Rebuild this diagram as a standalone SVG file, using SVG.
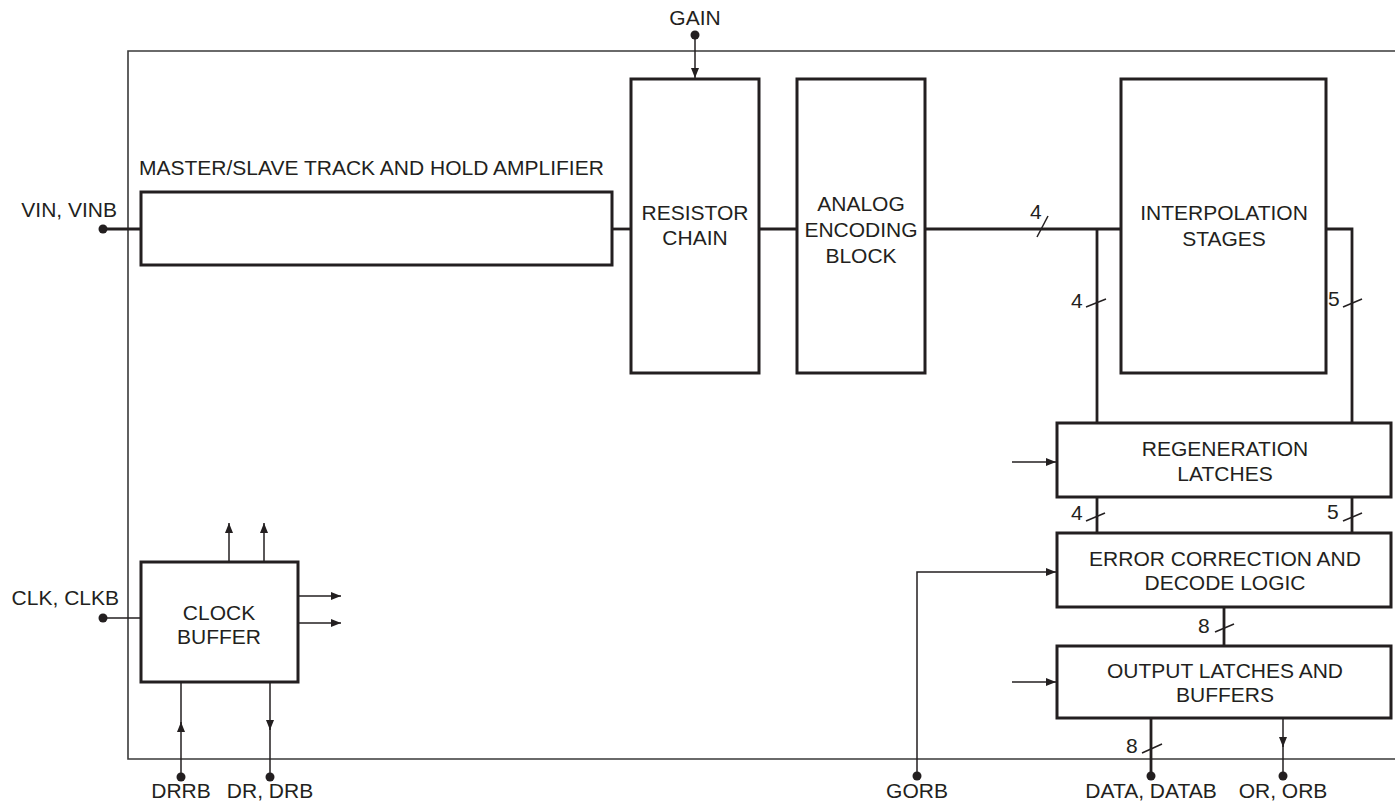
<svg xmlns="http://www.w3.org/2000/svg" width="1395" height="802" viewBox="0 0 1395 802">
<style>
text{font-family:"Liberation Sans",Arial,sans-serif;font-size:21px;fill:#231f20;}
.c{text-anchor:middle;}
.r{text-anchor:end;}
.box{fill:none;stroke:#231f20;stroke-width:3;}
.thick{fill:none;stroke:#231f20;stroke-width:2.8;}
.thin{fill:none;stroke:#231f20;stroke-width:1.5;}
.border{fill:none;stroke:#3a3a3a;stroke-width:1.6;}
.dot{fill:#231f20;}
</style>
<defs>
<marker id="ah" markerUnits="userSpaceOnUse" markerWidth="10" markerHeight="8" refX="10" refY="4" orient="auto">
<path d="M0,0 L10,4 L0,8 z" fill="#231f20"/>
</marker>
</defs>
<rect width="1395" height="802" fill="#ffffff"/>
<g id="chip-border">
<path class="border" d="M1395,51 H128 V759 H1395"/>
</g>
<g id="th-amp">
<rect class="box" x="141" y="192" width="471" height="73"/>
<text x="139" y="175">MASTER/SLAVE TRACK AND HOLD AMPLIFIER</text>
</g>
<g id="resistor-chain">
<rect class="box" x="631" y="79" width="128" height="294"/>
<text class="c" x="695" y="220">RESISTOR</text>
<text class="c" x="695" y="245">CHAIN</text>
</g>
<g id="analog-encoding">
<rect class="box" x="797" y="79" width="128" height="294"/>
<text class="c" x="861" y="211">ANALOG</text>
<text class="c" x="861" y="237">ENCODING</text>
<text class="c" x="861" y="263">BLOCK</text>
</g>
<g id="interpolation">
<rect class="box" x="1121" y="79" width="205" height="294"/>
<text class="c" x="1224" y="220">INTERPOLATION</text>
<text class="c" x="1224" y="246">STAGES</text>
</g>
<g id="regeneration">
<rect class="box" x="1057" y="423" width="334" height="74"/>
<text class="c" x="1225" y="456">REGENERATION</text>
<text class="c" x="1225" y="481">LATCHES</text>
</g>
<g id="error-correction">
<rect class="box" x="1057" y="533" width="334" height="74"/>
<text class="c" x="1225" y="566">ERROR CORRECTION AND</text>
<text class="c" x="1225" y="590">DECODE LOGIC</text>
</g>
<g id="output-latches">
<rect class="box" x="1057" y="646" width="334" height="72"/>
<text class="c" x="1225" y="678">OUTPUT LATCHES AND</text>
<text class="c" x="1225" y="702">BUFFERS</text>
</g>
<g id="clock-buffer">
<rect class="box" x="141" y="562" width="157" height="120"/>
<text class="c" x="219" y="620">CLOCK</text>
<text class="c" x="219" y="644">BUFFER</text>
</g>
<g id="pins">
<circle class="dot" cx="695" cy="35" r="4.5"/>
<text class="c" x="695" y="25">GAIN</text>
<circle class="dot" cx="103" cy="229" r="4.5"/>
<text class="r" x="117" y="217">VIN, VINB</text>
<circle class="dot" cx="103" cy="618" r="4.5"/>
<text class="r" x="119" y="605">CLK, CLKB</text>
<circle class="dot" cx="181" cy="777" r="4.5"/>
<text class="c" x="181" y="798">DRRB</text>
<circle class="dot" cx="270" cy="777" r="4.5"/>
<text class="c" x="270" y="798">DR, DRB</text>
<circle class="dot" cx="917" cy="776" r="4.5"/>
<text class="c" x="917" y="798">GORB</text>
<circle class="dot" cx="1151" cy="776" r="4.5"/>
<text class="c" x="1151" y="798">DATA, DATAB</text>
<circle class="dot" cx="1283" cy="776" r="4.5"/>
<text class="c" x="1283" y="798">OR, ORB</text>
</g>
<g id="connectors">
<line class="thin" x1="695" y1="35" x2="695" y2="78" marker-end="url(#ah)"/>
<line class="thick" x1="103" y1="229" x2="141" y2="229"/>
<line class="thick" x1="612" y1="229" x2="631" y2="229"/>
<line class="thick" x1="759" y1="229" x2="797" y2="229"/>
<line class="thick" x1="925" y1="229" x2="1121" y2="229"/>
<line class="thick" x1="1097" y1="229" x2="1097" y2="423"/>
<path class="thick" d="M1326,229 H1352 V423"/>
<line class="thick" x1="1097" y1="497" x2="1097" y2="533"/>
<line class="thick" x1="1352" y1="497" x2="1352" y2="533"/>
<line class="thick" x1="1224" y1="607" x2="1224" y2="646"/>
<line class="thick" x1="1151" y1="718" x2="1151" y2="776"/>
<line class="thin" x1="1283" y1="718" x2="1283" y2="747" marker-end="url(#ah)"/>
<line class="thin" x1="1283" y1="740" x2="1283" y2="776"/>
<path class="thin" d="M917,776 V572 H1056" marker-end="url(#ah)"/>
<line class="thin" x1="1012" y1="462" x2="1056" y2="462" marker-end="url(#ah)"/>
<line class="thin" x1="1012" y1="682" x2="1056" y2="682" marker-end="url(#ah)"/>
<line class="thin" x1="103" y1="618" x2="141" y2="618"/>
<line class="thin" x1="229" y1="562" x2="229" y2="523" marker-end="url(#ah)"/>
<line class="thin" x1="264" y1="562" x2="264" y2="523" marker-end="url(#ah)"/>
<line class="thin" x1="298" y1="596" x2="341" y2="596" marker-end="url(#ah)"/>
<line class="thin" x1="298" y1="623" x2="341" y2="623" marker-end="url(#ah)"/>
<line class="thin" x1="181" y1="777" x2="181" y2="722" marker-end="url(#ah)"/>
<line class="thin" x1="181" y1="730" x2="181" y2="682"/>
<line class="thin" x1="270" y1="682" x2="270" y2="730" marker-end="url(#ah)"/>
<line class="thin" x1="270" y1="722" x2="270" y2="777"/>
</g>
<g id="bus-widths">
<line class="thin" x1="1037" y1="237" x2="1048" y2="216"/>
<text x="1030" y="219">4</text>
<line class="thin" x1="1086" y1="307" x2="1106" y2="299"/>
<text x="1071" y="308">4</text>
<line class="thin" x1="1343" y1="307" x2="1362" y2="299"/>
<text x="1328" y="306">5</text>
<line class="thin" x1="1086" y1="521" x2="1105" y2="513"/>
<text x="1071" y="520">4</text>
<line class="thin" x1="1343" y1="521" x2="1362" y2="513"/>
<text x="1327" y="519">5</text>
<line class="thin" x1="1215" y1="632" x2="1234" y2="624"/>
<text x="1198" y="633">8</text>
<line class="thin" x1="1142" y1="753" x2="1162" y2="744"/>
<text x="1126" y="753">8</text>
</g>
</svg>
